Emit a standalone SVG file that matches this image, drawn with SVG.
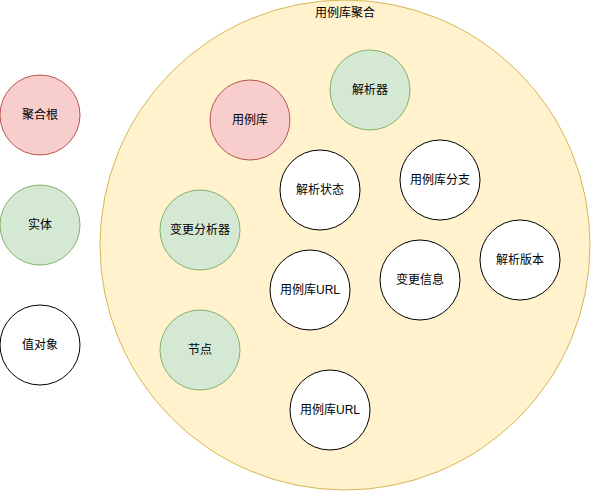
<svg xmlns="http://www.w3.org/2000/svg" width="591" height="491" viewBox="0 0 591 491">
<style>
text{font-family:"Liberation Sans","Noto Sans CJK SC",sans-serif;font-size:12px;fill:#000;text-anchor:middle;dominant-baseline:central}
.root{fill:#f8cecc;stroke:#b85450;stroke-width:1}
.ent{fill:#d5e8d4;stroke:#82b366;stroke-width:1}
.val{fill:#ffffff;stroke:#000000;stroke-width:1}
.agg{fill:#fff2cc;stroke:#d6b656;stroke-width:1}
</style>
<rect x="0" y="0" width="591" height="491" fill="#ffffff"/>
<g id="aggregate"><circle class="agg" cx="345" cy="245" r="245"/><text x="345" y="13">用例库聚合</text></g>
<g id="legend-root"><circle class="root" cx="40" cy="115" r="40"/><text x="40" y="115">聚合根</text></g>
<g id="legend-entity"><circle class="ent" cx="40" cy="225" r="40"/><text x="40" y="225">实体</text></g>
<g id="legend-value"><circle class="val" cx="40" cy="345" r="40"/><text x="40" y="345">值对象</text></g>
<g id="repo"><circle class="root" cx="250" cy="120" r="40"/><text x="250" y="120">用例库</text></g>
<g id="parser"><circle class="ent" cx="370" cy="90" r="40"/><text x="370" y="90">解析器</text></g>
<g id="parse-state"><circle class="val" cx="320" cy="190" r="40"/><text x="320" y="190">解析状态</text></g>
<g id="branch"><circle class="val" cx="440" cy="180" r="40"/><text x="440" y="180">用例库分支</text></g>
<g id="change-analyzer"><circle class="ent" cx="200" cy="230" r="40"/><text x="200" y="230">变更分析器</text></g>
<g id="parse-version"><circle class="val" cx="520" cy="260" r="40"/><text x="520" y="260">解析版本</text></g>
<g id="change-info"><circle class="val" cx="420" cy="280" r="40"/><text x="420" y="280">变更信息</text></g>
<g id="url1"><circle class="val" cx="310" cy="290" r="40"/><text x="310" y="290">用例库URL</text></g>
<g id="node"><circle class="ent" cx="200" cy="350" r="40"/><text x="200" y="350">节点</text></g>
<g id="url2"><circle class="val" cx="330" cy="410" r="40"/><text x="330" y="410">用例库URL</text></g>
<g id="connectors"></g>
</svg>
